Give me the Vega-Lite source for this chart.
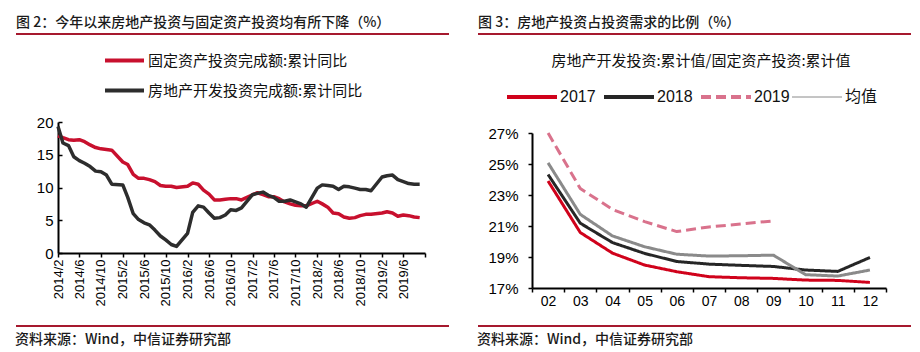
{
  "$schema": "https://vega.github.io/schema/vega-lite/v6.json",
  "background": "white",
  "padding": {"left": 15, "top": 15, "right": 0, "bottom": 0},
  "spacing": 27,
  "resolve": {"scale": {"color": "independent", "strokeDash": "independent", "x": "independent", "y": "independent"}, "legend": {"color": "independent", "strokeDash": "independent"}},
  "config": {
    "font": "Liberation Sans",
    "title": {"font": "Noto Sans CJK SC", "fontSize": 14, "fontWeight": 500, "color": "#1a1a1a", "anchor": "start"},
    "axis": {"grid": false, "labelFont": "Liberation Sans", "labelColor": "#000", "domainColor": "#000", "tickColor": "#000"}
  },
  "hconcat": [
    {
      "title": {"text": "资料来源：Wind，中信证券研究部", "orient": "bottom", "anchor": "start", "offset": 6, "fontSize": 14},
      "vconcat": [
        {
          "width": 433,
          "height": 292,
          "view": {"stroke": "#A6192E", "strokeWidth": 2, "strokeDash": [433, 292]},
          "title": {"text": "图 2：今年以来房地产投资与固定资产投资均有所下降（%）", "offset": 4},
          "data": {"values": [
            {"d": "2014-02", "固定资产投资完成额:累计同比": 17.9, "房地产开发投资完成额:累计同比": 19.3},
            {"d": "2014-03", "固定资产投资完成额:累计同比": 17.6, "房地产开发投资完成额:累计同比": 16.8},
            {"d": "2014-04", "固定资产投资完成额:累计同比": 17.3, "房地产开发投资完成额:累计同比": 16.4},
            {"d": "2014-05", "固定资产投资完成额:累计同比": 17.2, "房地产开发投资完成额:累计同比": 14.7},
            {"d": "2014-06", "固定资产投资完成额:累计同比": 17.3, "房地产开发投资完成额:累计同比": 14.1},
            {"d": "2014-07", "固定资产投资完成额:累计同比": 17.0, "房地产开发投资完成额:累计同比": 13.7},
            {"d": "2014-08", "固定资产投资完成额:累计同比": 16.5, "房地产开发投资完成额:累计同比": 13.2},
            {"d": "2014-09", "固定资产投资完成额:累计同比": 16.1, "房地产开发投资完成额:累计同比": 12.5},
            {"d": "2014-10", "固定资产投资完成额:累计同比": 15.9, "房地产开发投资完成额:累计同比": 12.4},
            {"d": "2014-11", "固定资产投资完成额:累计同比": 15.8, "房地产开发投资完成额:累计同比": 11.9},
            {"d": "2014-12", "固定资产投资完成额:累计同比": 15.7, "房地产开发投资完成额:累计同比": 10.5},
            {"d": "2015-02", "固定资产投资完成额:累计同比": 13.9, "房地产开发投资完成额:累计同比": 10.4},
            {"d": "2015-03", "固定资产投资完成额:累计同比": 13.5, "房地产开发投资完成额:累计同比": 8.5},
            {"d": "2015-04", "固定资产投资完成额:累计同比": 12.0, "房地产开发投资完成额:累计同比": 6.0},
            {"d": "2015-05", "固定资产投资完成额:累计同比": 11.4, "房地产开发投资完成额:累计同比": 5.1},
            {"d": "2015-06", "固定资产投资完成额:累计同比": 11.4, "房地产开发投资完成额:累计同比": 4.6},
            {"d": "2015-07", "固定资产投资完成额:累计同比": 11.2, "房地产开发投资完成额:累计同比": 4.3},
            {"d": "2015-08", "固定资产投资完成额:累计同比": 10.9, "房地产开发投资完成额:累计同比": 3.5},
            {"d": "2015-09", "固定资产投资完成额:累计同比": 10.3, "房地产开发投资完成额:累计同比": 2.6},
            {"d": "2015-10", "固定资产投资完成额:累计同比": 10.2, "房地产开发投资完成额:累计同比": 2.0},
            {"d": "2015-11", "固定资产投资完成额:累计同比": 10.2, "房地产开发投资完成额:累计同比": 1.3},
            {"d": "2015-12", "固定资产投资完成额:累计同比": 10.0, "房地产开发投资完成额:累计同比": 1.0},
            {"d": "2016-02", "固定资产投资完成额:累计同比": 10.2, "房地产开发投资完成额:累计同比": 3.0},
            {"d": "2016-03", "固定资产投资完成额:累计同比": 10.7, "房地产开发投资完成额:累计同比": 6.2},
            {"d": "2016-04", "固定资产投资完成额:累计同比": 10.5, "房地产开发投资完成额:累计同比": 7.2},
            {"d": "2016-05", "固定资产投资完成额:累计同比": 9.6, "房地产开发投资完成额:累计同比": 7.0},
            {"d": "2016-06", "固定资产投资完成额:累计同比": 9.0, "房地产开发投资完成额:累计同比": 6.1},
            {"d": "2016-07", "固定资产投资完成额:累计同比": 8.1, "房地产开发投资完成额:累计同比": 5.3},
            {"d": "2016-08", "固定资产投资完成额:累计同比": 8.1, "房地产开发投资完成额:累计同比": 5.4},
            {"d": "2016-09", "固定资产投资完成额:累计同比": 8.2, "房地产开发投资完成额:累计同比": 5.8},
            {"d": "2016-10", "固定资产投资完成额:累计同比": 8.3, "房地产开发投资完成额:累计同比": 6.6},
            {"d": "2016-11", "固定资产投资完成额:累计同比": 8.3, "房地产开发投资完成额:累计同比": 6.5},
            {"d": "2016-12", "固定资产投资完成额:累计同比": 8.1, "房地产开发投资完成额:累计同比": 6.9},
            {"d": "2017-02", "固定资产投资完成额:累计同比": 8.9, "房地产开发投资完成额:累计同比": 8.9},
            {"d": "2017-03", "固定资产投资完成额:累计同比": 9.2, "房地产开发投资完成额:累计同比": 9.1},
            {"d": "2017-04", "固定资产投资完成额:累计同比": 8.9, "房地产开发投资完成额:累计同比": 9.3},
            {"d": "2017-05", "固定资产投资完成额:累计同比": 8.6, "房地产开发投资完成额:累计同比": 8.8},
            {"d": "2017-06", "固定资产投资完成额:累计同比": 8.6, "房地产开发投资完成额:累计同比": 8.5},
            {"d": "2017-07", "固定资产投资完成额:累计同比": 8.3, "房地产开发投资完成额:累计同比": 7.9},
            {"d": "2017-08", "固定资产投资完成额:累计同比": 7.8, "房地产开发投资完成额:累计同比": 7.9},
            {"d": "2017-09", "固定资产投资完成额:累计同比": 7.5, "房地产开发投资完成额:累计同比": 8.1},
            {"d": "2017-10", "固定资产投资完成额:累计同比": 7.3, "房地产开发投资完成额:累计同比": 7.8},
            {"d": "2017-11", "固定资产投资完成额:累计同比": 7.2, "房地产开发投资完成额:累计同比": 7.5},
            {"d": "2017-12", "固定资产投资完成额:累计同比": 7.2, "房地产开发投资完成额:累计同比": 7.0},
            {"d": "2018-02", "固定资产投资完成额:累计同比": 7.9, "房地产开发投资完成额:累计同比": 9.9},
            {"d": "2018-03", "固定资产投资完成额:累计同比": 7.5, "房地产开发投资完成额:累计同比": 10.4},
            {"d": "2018-04", "固定资产投资完成额:累计同比": 7.0, "房地产开发投资完成额:累计同比": 10.3},
            {"d": "2018-05", "固定资产投资完成额:累计同比": 6.1, "房地产开发投资完成额:累计同比": 10.2},
            {"d": "2018-06", "固定资产投资完成额:累计同比": 6.0, "房地产开发投资完成额:累计同比": 9.7},
            {"d": "2018-07", "固定资产投资完成额:累计同比": 5.5, "房地产开发投资完成额:累计同比": 10.2},
            {"d": "2018-08", "固定资产投资完成额:累计同比": 5.3, "房地产开发投资完成额:累计同比": 10.1},
            {"d": "2018-09", "固定资产投资完成额:累计同比": 5.4, "房地产开发投资完成额:累计同比": 9.9},
            {"d": "2018-10", "固定资产投资完成额:累计同比": 5.7, "房地产开发投资完成额:累计同比": 9.7},
            {"d": "2018-11", "固定资产投资完成额:累计同比": 5.9, "房地产开发投资完成额:累计同比": 9.7},
            {"d": "2018-12", "固定资产投资完成额:累计同比": 5.9, "房地产开发投资完成额:累计同比": 9.5},
            {"d": "2019-02", "固定资产投资完成额:累计同比": 6.1, "房地产开发投资完成额:累计同比": 11.6},
            {"d": "2019-03", "固定资产投资完成额:累计同比": 6.3, "房地产开发投资完成额:累计同比": 11.8},
            {"d": "2019-04", "固定资产投资完成额:累计同比": 6.1, "房地产开发投资完成额:累计同比": 11.9},
            {"d": "2019-05", "固定资产投资完成额:累计同比": 5.6, "房地产开发投资完成额:累计同比": 11.2},
            {"d": "2019-06", "固定资产投资完成额:累计同比": 5.8, "房地产开发投资完成额:累计同比": 10.9},
            {"d": "2019-07", "固定资产投资完成额:累计同比": 5.7, "房地产开发投资完成额:累计同比": 10.6},
            {"d": "2019-08", "固定资产投资完成额:累计同比": 5.5, "房地产开发投资完成额:累计同比": 10.5},
            {"d": "2019-09", "固定资产投资完成额:累计同比": 5.4, "房地产开发投资完成额:累计同比": 10.5}
          ]},
          "transform": [{"fold": ["固定资产投资完成额:累计同比", "房地产开发投资完成额:累计同比"], "as": ["series", "value"]}],
          "mark": {"type": "line", "strokeWidth": 3.5, "strokeJoin": "round"},
          "encoding": {
            "x": {
              "field": "d", "type": "temporal",
              "scale": {"type": "utc", "domain": [{"year": 2014, "month": 2, "date": 1, "utc": true}, {"year": 2019, "month": 10, "date": 1, "utc": true}], "range": [42, 409]},
              "axis": {
                "title": null, "offset": -73, "labelAngle": -90, "labelFontSize": 13, "tickSize": 4, "labelPadding": 2, "domainWidth": 2, "tickWidth": 1.5,
                "values": [
                  {"year": 2014, "month": 2, "date": 1, "utc": true}, {"year": 2014, "month": 6, "date": 1, "utc": true}, {"year": 2014, "month": 10, "date": 1, "utc": true},
                  {"year": 2015, "month": 2, "date": 1, "utc": true}, {"year": 2015, "month": 6, "date": 1, "utc": true}, {"year": 2015, "month": 10, "date": 1, "utc": true},
                  {"year": 2016, "month": 2, "date": 1, "utc": true}, {"year": 2016, "month": 6, "date": 1, "utc": true}, {"year": 2016, "month": 10, "date": 1, "utc": true},
                  {"year": 2017, "month": 2, "date": 1, "utc": true}, {"year": 2017, "month": 6, "date": 1, "utc": true}, {"year": 2017, "month": 10, "date": 1, "utc": true},
                  {"year": 2018, "month": 2, "date": 1, "utc": true}, {"year": 2018, "month": 6, "date": 1, "utc": true}, {"year": 2018, "month": 10, "date": 1, "utc": true},
                  {"year": 2019, "month": 2, "date": 1, "utc": true}, {"year": 2019, "month": 6, "date": 1, "utc": true}, {"year": 2019, "month": 10, "date": 1, "utc": true}
                ],
                "labelExpr": "utcyear(datum.value) == 2019 && utcmonth(datum.value) == 9 ? '' : utcFormat(datum.value, '%Y/%-m')"
              }
            },
            "y": {
              "field": "value", "type": "quantitative",
              "scale": {"domain": [0, 20], "range": [219, 88]},
              "axis": {"title": null, "offset": -42, "values": [0, 5, 10, 15, 20], "labelFontSize": 15, "tickSize": -4, "labelPadding": 9, "domainWidth": 2, "tickWidth": 1.5}
            },
            "color": {
              "field": "series", "type": "nominal",
              "scale": {"domain": ["固定资产投资完成额:累计同比", "房地产开发投资完成额:累计同比"], "range": ["#C8102E", "#2d2d2d"]},
              "legend": {
                "title": null, "orient": "none", "legendX": 87, "legendY": 5, "direction": "vertical",
                "symbolType": "stroke", "symbolSize": 1521, "symbolStrokeWidth": 4,
                "labelFont": "Noto Sans CJK SC", "labelFontSize": 15, "labelColor": "#111", "rowPadding": -21, "labelOffset": 2, "labelLimit": 400
              }
            }
          }
        }
      ]
    },
    {
      "title": {"text": "资料来源：Wind，中信证券研究部", "orient": "bottom", "anchor": "start", "offset": 6, "fontSize": 14},
      "vconcat": [
        {
          "width": 433,
          "height": 292,
          "view": {"stroke": "#A6192E", "strokeWidth": 2, "strokeDash": [433, 292]},
          "title": {"text": "图 3：房地产投资占投资需求的比例（%）", "offset": 4},
          "data": {"values": [
            {"m": "02", "s": "2017", "v": 23.9}, {"m": "03", "s": "2017", "v": 20.58}, {"m": "04", "s": "2017", "v": 19.25}, {"m": "05", "s": "2017", "v": 18.48},
            {"m": "06", "s": "2017", "v": 18.05}, {"m": "07", "s": "2017", "v": 17.73}, {"m": "08", "s": "2017", "v": 17.66}, {"m": "09", "s": "2017", "v": 17.62},
            {"m": "10", "s": "2017", "v": 17.51}, {"m": "11", "s": "2017", "v": 17.49}, {"m": "12", "s": "2017", "v": 17.36},
            {"m": "02", "s": "2018", "v": 24.32}, {"m": "03", "s": "2018", "v": 21.18}, {"m": "04", "s": "2018", "v": 19.93}, {"m": "05", "s": "2018", "v": 19.23},
            {"m": "06", "s": "2018", "v": 18.71}, {"m": "07", "s": "2018", "v": 18.54}, {"m": "08", "s": "2018", "v": 18.46}, {"m": "09", "s": "2018", "v": 18.39},
            {"m": "10", "s": "2018", "v": 18.16}, {"m": "11", "s": "2018", "v": 18.07}, {"m": "12", "s": "2018", "v": 18.97},
            {"m": "02", "s": "2019", "v": 27.0}, {"m": "03", "s": "2019", "v": 23.42}, {"m": "04", "s": "2019", "v": 22.07}, {"m": "05", "s": "2019", "v": 21.28},
            {"m": "06", "s": "2019", "v": 20.64}, {"m": "07", "s": "2019", "v": 20.94}, {"m": "08", "s": "2019", "v": 21.13}, {"m": "09", "s": "2019", "v": 21.33},
            {"m": "02", "s": "均值", "v": 25.07}, {"m": "03", "s": "均值", "v": 21.75}, {"m": "04", "s": "均值", "v": 20.36}, {"m": "05", "s": "均值", "v": 19.66},
            {"m": "06", "s": "均值", "v": 19.18}, {"m": "07", "s": "均值", "v": 19.06}, {"m": "08", "s": "均值", "v": 19.08}, {"m": "09", "s": "均值", "v": 19.12},
            {"m": "10", "s": "均值", "v": 17.86}, {"m": "11", "s": "均值", "v": 17.77}, {"m": "12", "s": "均值", "v": 18.16}
          ]},
          "mark": {"type": "line", "strokeWidth": 3, "strokeJoin": "round"},
          "encoding": {
            "x": {
              "field": "m", "type": "ordinal",
              "scale": {"type": "band", "range": [54, 408], "paddingInner": 0, "paddingOuter": 0},
              "bandPosition": 0.5,
              "axis": {"title": null, "offset": -38, "labelAngle": 0, "tickBand": "extent", "tickSize": 4, "labelFontSize": 14, "labelPadding": 2, "domainWidth": 2, "tickWidth": 1.5}
            },
            "y": {
              "field": "v", "type": "quantitative",
              "scale": {"domain": [17, 27], "range": [254, 99]},
              "axis": {"title": null, "offset": -54, "values": [17, 19, 21, 23, 25, 27], "labelExpr": "datum.value + '%'", "labelFontSize": 15, "tickSize": 4, "labelPadding": 10, "domainWidth": 2, "tickWidth": 1.5}
            },
            "color": {
              "field": "s", "type": "nominal",
              "scale": {"domain": ["2017", "2018", "2019", "均值"], "range": ["#D0021B", "#262626", "#D9728C", "#8A8A8A"]},
              "legend": {
                "title": "房地产开发投资:累计值/固定资产投资:累计值", "titleOrient": "top", "titleAnchor": "middle",
                "titleFont": "Noto Sans CJK SC", "titleFontSize": 15, "titleFontWeight": "normal", "titleColor": "#111", "titlePadding": 20, "titleLimit": 400,
                "orient": "none", "legendX": 46, "legendY": 20, "direction": "horizontal", "columns": 4,
                "symbolType": "stroke", "symbolSize": 2500, "symbolStrokeWidth": 4,
                "labelFont": "Liberation Sans, Noto Sans CJK SC", "labelFontSize": 16, "labelColor": "#111", "columnPadding": 0, "labelOffset": 20,
                "encode": {"symbols": {"update": {"strokeWidth": {"signal": "datum.value === '均值' ? 1 : 4"}}}}
              }
            },
            "strokeDash": {
              "field": "s", "type": "nominal",
              "scale": {"domain": ["2017", "2018", "2019", "均值"], "range": [[1, 0], [1, 0], [10, 5], [1, 0]]},
              "legend": {
                "title": "房地产开发投资:累计值/固定资产投资:累计值", "titleOrient": "top", "titleAnchor": "middle",
                "titleFont": "Noto Sans CJK SC", "titleFontSize": 15, "titleFontWeight": "normal", "titleColor": "#111", "titlePadding": 20, "titleLimit": 400,
                "orient": "none", "legendX": 46, "legendY": 20, "direction": "horizontal", "columns": 4,
                "symbolType": "stroke", "symbolSize": 2500, "symbolStrokeWidth": 4,
                "labelFont": "Liberation Sans, Noto Sans CJK SC", "labelFontSize": 16, "labelColor": "#111", "columnPadding": 0, "labelOffset": 20,
                "encode": {"symbols": {"update": {"strokeWidth": {"signal": "datum.value === '均值' ? 1 : 4"}}}}
              }
            }
          }
        }
      ]
    }
  ]
}
